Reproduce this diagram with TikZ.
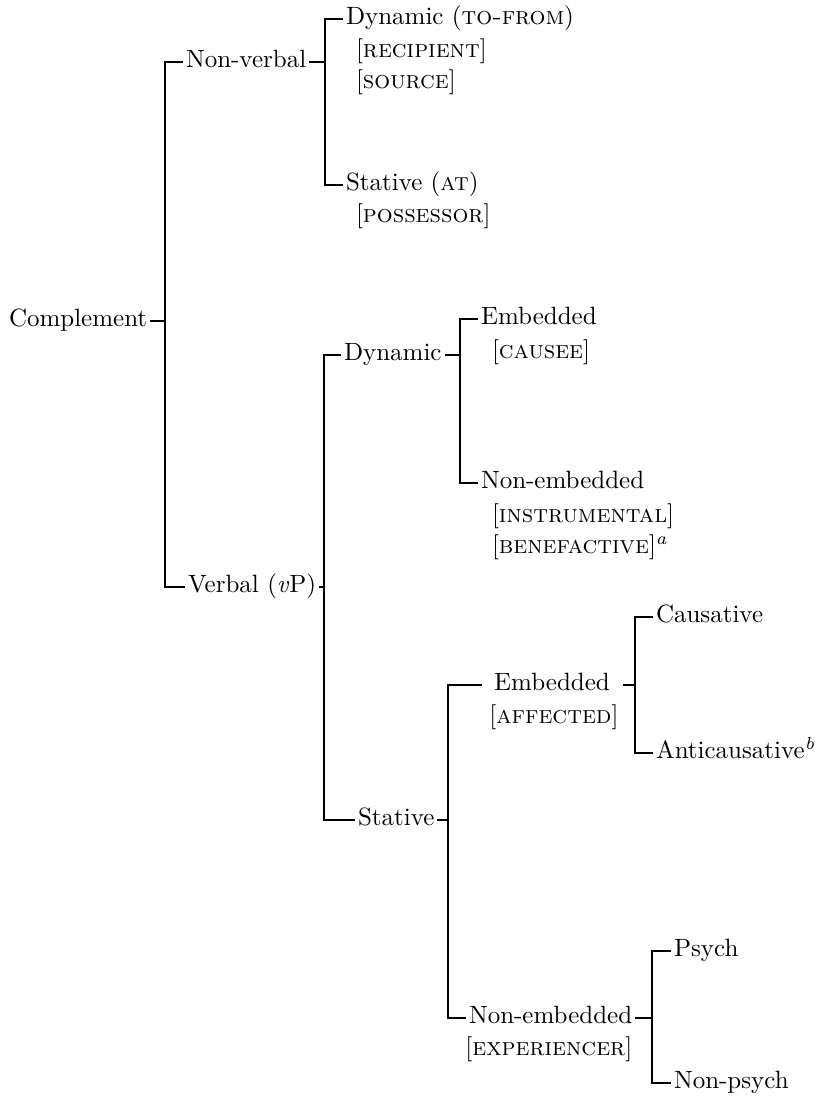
\documentclass[tikz,border=0pt]{standalone}
\usepackage{tikz}
\usetikzlibrary{arrows,shapes}
\tikzstyle{lab}=[inner xsep=1pt,inner ysep=0pt,anchor=mid west]
\tikzstyle{edge} = [draw,line width=0.55pt,-]

\begin{document}
\begin{tikzpicture}[x=0.4pt,y=-0.4pt]
        \useasboundingbox (0,0) rectangle (814,1099);
        % first split
        \node[lab] (comp) at (6,321) {Complement};
        \node[lab] (nonverbal) at (183,62) {Non-verbal};
        \node[lab] (verbal) at (185,587) {Verbal (\textit{v}P)};
        % non-verbal side
        \node[lab] (dyntf) at (343,19) {Dynamic (\textsc{to-from})};
        \node[lab] (recip) at (353,52) {[\textsc{recipient}]};
        \node[lab] (source) at (353,83) {[\textsc{source}]};
        \node[lab] (statat) at (343,185) {Stative (\textsc{at})};
        \node[lab] (poss) at (353,217) {[\textsc{possessor}]};
        % verbal side
        \node[lab] (dynv) at (341,355) {Dynamic};
        \node[lab] (embA) at (478,319) {Embedded};
        \node[lab] (causee) at (489,353) {[\textsc{causee}]};
        \node[lab] (nonembA) at (478,483) {Non-embedded};
        \node[lab] (instr) at (489,517) {[\textsc{instrumental}]};
        \node[lab] (benef) at (489,548) {[\textsc{benefactive}]\textsuperscript{\textit{a}}};
        \node[lab] (statv) at (355,820) {Stative};
        \node[lab,anchor=mid,minimum width=56pt] (embB) at (552,685) {Embedded};
        \node[lab,anchor=mid] (affect) at (554,718) {[\textsc{affected}]};
        \node[lab] (caus) at (653,617) {Causative};
        \node[lab] (anticaus) at (653,753) {Anticausative\textsuperscript{\textit{b}}};
        \node[lab] (nonembB) at (466,1018) {Non-embedded};
        \coordinate (expy) at (0,1050);
        \node[lab,anchor=mid east] (exper) at (nonembB.mid east |- expy) {[\textsc{experiencer}]};
        \node[lab] (psych) at (671,951) {Psych};
        \node[lab] (nonpsych) at (671,1083) {Non-psych};
        % junctions
        \coordinate (j1) at (165,321);
        \coordinate (j2) at (325,62);
        \coordinate (j3) at (324,587);
        \coordinate (j4) at (460,355);
        \coordinate (j5) at (448,820);
        \coordinate (j6) at (635,685);
        \coordinate (j7) at (652,1018);
        % brackets
        \draw[edge] (comp.mid east) -- (j1);
        \draw[edge] (nonverbal.mid west) -| (j1) |- (verbal.mid west);
        \draw[edge] (nonverbal.mid east) -- (j2);
        \draw[edge] (dyntf.mid west) -| (j2) |- (statat.mid west);
        \draw[edge] (verbal.mid east) -- (j3);
        \draw[edge] (dynv.mid west) -| (j3) |- (statv.mid west);
        \draw[edge] (dynv.mid east) -- (j4);
        \draw[edge] (embA.mid west) -| (j4) |- (nonembA.mid west);
        \draw[edge] (statv.mid east) -- (j5);
        \draw[edge] (embB.mid west) -| (j5) |- (nonembB.mid west);
        \draw[edge] (embB.mid east) -- (j6);
        \draw[edge] (caus.mid west) -| (j6) |- (anticaus.mid west);
        \draw[edge] (nonembB.mid east) -- (j7);
        \draw[edge] (psych.mid west) -| (j7) |- (nonpsych.mid west);
      \end{tikzpicture}
\end{document}
